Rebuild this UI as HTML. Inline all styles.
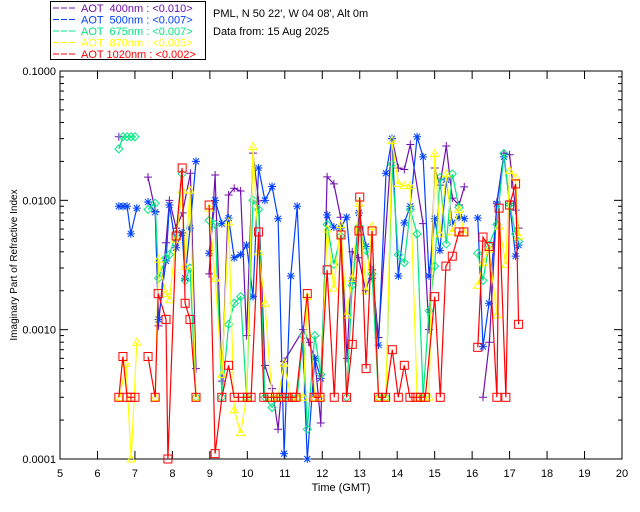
<!DOCTYPE html>
<html><head><meta charset="utf-8"><style>
body{margin:0;background:#fff;}
svg{display:block;font-family:"Liberation Sans",sans-serif;}
</style></head><body>
<svg id="chart" width="640" height="512" viewBox="0 0 640 512" xmlns="http://www.w3.org/2000/svg">
<rect x="0" y="0" width="640" height="512" fill="#fff"/>
<g id="legend">
<rect x="50.5" y="1.5" width="155" height="58" fill="none" stroke="#000"/>
</g>
<text x="213" y="17" font-size="11">PML, N 50 22', W 04 08', Alt 0m</text>
<text x="213" y="35" font-size="11">Data from: 15 Aug 2025</text>
<g id="axes"></g>
<g id="series"></g>
<text x="341" y="491" font-size="11" text-anchor="middle">Time (GMT)</text>
<text x="17" y="265" font-size="10" text-anchor="middle" transform="rotate(-90 17 265)">Imaginary Part of Refractive Index</text>
</svg>
<script>
const xTicks=[5,6,7,8,9,10,11,12,13,14,15,16,17,18,19,20];
const yTicks=[0.1,0.01,0.001,0.0001];
const yTickLabels=["0.1000","0.0100","0.0010","0.0001"];
const legendLabels=["AOT  400nm : <0.010>","AOT  500nm : <0.007>","AOT  675nm : <0.007>","AOT  870nm : <0.005>","AOT 1020nm : <0.002>"];
const t400=[6.57,null,7.35,7.55,7.63,7.83,7.92,8.1,8.27,8.48,8.63,null,8.98,9.14,9.32,9.5,9.65,9.82,9.98,10.15,10.3,10.47,10.66,10.82,10.98,11.49,11.64,11.8,11.96,12.13,12.31,12.49,12.66,12.8,12.97,13.16,13.33,13.5,13.86,14.03,14.19,14.35,14.69,14.85,15.0,15.14,15.31,15.47,15.65,15.79,null,16.29,16.46,16.66,16.85,17.0,17.16,17.24];
const v400=[0.031,null,0.0151,0.0082,0.00107,0.0047,0.010,0.0061,0.008,0.0162,0.0005,null,0.0027,0.0157,0.0004,0.011,0.0124,0.0118,0.0009,0.0232,0.0099,0.00053,0.00035,0.00017,0.00057,0.001,0.0008,0.0006,0.00019,0.0152,0.0134,0.0074,0.0006,0.004,0.0036,0.002,0.0029,0.00087,0.030,0.0178,0.0173,0.027,0.0066,0.001,0.0178,0.0131,0.0263,0.0104,0.0092,0.0127,null,0.0003,0.0008,0.0097,0.0232,0.0225,0.0084,0.0061];
const t500=[6.57,6.68,6.79,6.89,7.05,null,7.35,7.54,7.63,7.83,7.92,8.1,8.26,8.34,8.47,8.63,null,8.98,9.14,9.32,9.5,9.65,9.82,9.98,10.15,10.3,10.47,10.66,10.82,10.98,11.16,11.33,11.6,11.8,11.96,12.13,12.31,12.49,12.65,12.8,12.98,13.17,13.33,13.5,13.7,13.86,14.03,14.19,14.35,14.53,14.69,14.85,15.0,15.14,15.31,15.47,15.65,15.79,null,16.15,16.29,16.45,16.66,16.85,17.0,17.16,17.24];
const v500=[0.009,0.009,0.009,0.0055,0.0087,null,0.0097,0.0081,0.0012,0.0034,0.0092,0.0043,0.0056,0.0025,0.0061,0.020,null,0.0039,0.01,0.0066,0.0073,0.0036,0.0038,0.0045,0.0018,0.0178,0.01,0.0128,0.0072,0.00011,0.0026,0.009,0.0001,0.0006,0.00042,0.0077,0.0062,0.0061,0.0074,0.0024,0.008,0.0044,0.0025,0.00076,0.0162,0.030,0.0026,0.0067,0.009,0.031,0.0217,0.0026,0.0072,0.0041,0.0144,0.0067,0.0074,0.0072,null,0.0073,0.00074,0.0016,0.0094,0.0217,0.0095,0.0037,0.0045];
const t675=[6.57,6.68,6.79,6.9,7.0,null,7.35,7.54,7.63,7.83,7.92,8.1,8.26,8.34,8.47,8.63,null,8.98,9.14,9.32,9.5,9.65,9.82,9.98,10.15,10.3,10.47,10.66,10.82,10.98,11.16,11.33,11.49,11.6,11.8,11.96,12.13,12.31,12.49,12.65,12.8,12.98,13.17,13.33,13.5,13.7,13.86,14.03,14.19,14.35,14.53,14.69,14.85,15.0,15.14,15.31,15.47,15.65,null,16.15,16.29,16.45,16.66,16.85,17.0,17.16,17.24];
const v675=[0.025,0.031,0.031,0.031,0.031,null,0.0085,0.0095,0.0025,0.0036,0.0038,0.0055,0.016,0.0024,0.003,0.0003,null,0.007,0.0065,0.0003,0.0011,0.0016,0.0018,0.0003,0.01,0.0085,0.0003,0.00025,0.0003,0.0003,0.0003,0.0003,0.0009,0.00017,0.0009,0.00045,0.0065,0.0032,0.0053,0.0003,0.0022,0.0063,0.0041,0.0027,0.0003,0.0003,0.019,0.0038,0.0033,0.0085,0.0055,0.0003,0.0014,0.0031,0.015,0.0046,0.016,0.0088,null,0.0039,0.0024,0.0045,0.0065,0.023,0.0093,0.0055,0.0048];
const t870=[6.6,6.76,6.9,7.05,null,7.54,7.63,7.83,7.92,8.1,8.26,8.34,8.47,8.63,null,8.98,9.14,9.32,9.5,9.65,9.82,9.98,10.15,10.3,10.47,10.66,10.82,10.98,11.16,11.33,11.49,11.6,11.8,11.96,12.13,12.31,12.49,12.65,12.8,12.98,13.17,13.33,13.5,13.7,13.86,14.03,14.19,14.35,14.53,14.69,14.85,15.0,15.14,15.31,15.47,15.65,15.79,null,16.15,16.29,16.45,16.66,16.72,16.9,17.0,17.16,17.24];
const v870=[0.0003,0.00055,0.0001,0.0008,null,0.0003,0.0035,0.0019,0.0017,0.005,0.012,0.0031,0.012,0.0003,null,0.0087,0.0025,0.00045,0.0068,0.00024,0.00016,0.0003,0.026,0.004,0.0016,0.0003,0.0003,0.00055,0.0003,0.0003,0.0003,0.0018,0.0003,0.0003,0.006,0.0021,0.0065,0.0013,0.0025,0.0095,0.002,0.0063,0.0003,0.0003,0.029,0.0135,0.013,0.013,0.0003,0.0003,0.0003,0.023,0.0055,0.016,0.0057,0.0085,0.0056,null,0.0022,0.0033,0.0042,0.0013,0.0063,0.0032,0.017,0.015,0.0053];
const t1020=[6.57,6.68,6.79,6.89,7.0,null,7.35,7.54,7.62,7.83,7.88,8.1,8.26,8.34,8.47,8.63,null,8.98,9.14,9.32,9.5,9.65,9.87,10.0,10.1,10.3,10.44,10.6,10.75,10.9,11.05,11.2,11.3,11.6,11.78,11.94,12.13,12.32,12.5,12.65,12.8,12.98,13.0,13.17,13.33,13.5,13.69,13.87,14.03,14.19,14.34,14.5,14.62,14.75,15.0,15.15,15.3,15.47,15.65,15.78,null,16.15,16.29,16.45,16.66,16.72,16.9,17.0,17.16,17.24];
const v1020=[0.0003,0.00062,0.0003,0.0003,0.0003,null,0.00062,0.0003,0.0019,0.0012,0.0001,0.0053,0.0178,0.0016,0.0012,0.0003,null,0.0092,0.00011,0.0003,0.00053,0.0003,0.0003,0.0003,0.0003,0.0057,0.0003,0.0003,0.0003,0.0003,0.0003,0.0003,0.0003,0.0019,0.0003,0.0003,0.0029,0.0003,0.0054,0.0003,0.00077,0.0058,0.0106,0.0005,0.0058,0.0003,0.0003,0.0007,0.0003,0.00053,0.0003,0.0003,0.0003,0.0003,0.0018,0.0003,0.0031,0.0037,0.0057,0.0057,null,0.00073,0.0052,0.0044,0.0003,0.0087,0.0003,0.0092,0.0134,0.0011];

const X0=60,X1=622,Y0=71,Y1=459;
function xs(t){return X0+(t-5)*(X1-X0)/15;}
function ys(v){var l=Math.log10(Math.max(v,1e-4*0.9));return Y0+(-1-l)*(Y1-Y0)/3;}
const NS="http://www.w3.org/2000/svg";
function mk(tag,attrs,parent){var e=document.createElementNS(NS,tag);for(var k in attrs)e.setAttribute(k,attrs[k]);parent.appendChild(e);return e;}

const axes=document.getElementById('axes');
var frame=mk('rect',{x:X0,y:Y0,width:X1-X0,height:Y1-Y0,fill:'none',stroke:'#000'},axes);


xTicks.forEach(function(t){
  var x=xs(t);
  var a=mk('line',{x1:x,x2:x,y1:Y1,y2:Y1-8,stroke:'#000'},axes);
  
  
  var b=mk('line',{x1:x,x2:x,y1:Y0,y2:Y0+8,stroke:'#000'},axes);
  
  
  var tx=mk('text',{x:x,y:Y1+18,'font-size':11,'text-anchor':'middle'},axes);
  tx.textContent=String(t);
  
  
});
yTicks.forEach(function(v,i){
  var y=ys(v);
  var a=mk('line',{x1:X0,x2:X0+8,y1:y,y2:y,stroke:'#000'},axes);
  
  
  var b=mk('line',{x1:X1,x2:X1-8,y1:y,y2:y,stroke:'#000'},axes);
  
  
  var tx=mk('text',{x:X0-4,y:y+4,'font-size':11,'text-anchor':'end'},axes);
  tx.textContent=yTickLabels[i];
  
  
  if(i<yTicks.length-1){for(var m=2;m<10;m++){var ym=ys(v/10*m);
    var c=mk('line',{x1:X0,x2:X0+4,y1:ym,y2:ym,stroke:'#000'},axes);
    
    
    var d=mk('line',{x1:X1,x2:X1-4,y1:ym,y2:ym,stroke:'#000'},axes);
    
    }}
});

const colors=['#7010b0','#0040ff','#00e880','#ffff00','#ff0000'];
const allT=[t400,t500,t675,t870,t1020],allV=[v400,v500,v675,v870,v1020];
const names=['400nm','500nm','675nm','870nm','1020nm'];
const sg=document.getElementById('series');
function marker(k,x,y,c,g){
  var e;
  if(k==0){e=mk('path',{d:'M'+(x-4)+' '+y+'h8M'+x+' '+(y-4)+'v8',stroke:c,fill:'none'},g);}
  else if(k==1){e=mk('path',{d:'M'+(x-4)+' '+y+'h8M'+x+' '+(y-4)+'v8M'+(x-3)+' '+(y-3)+'l6 6M'+(x+3)+' '+(y-3)+'l-6 6',stroke:c,fill:'none'},g);}
  else if(k==2){e=mk('path',{d:'M'+x+' '+(y-4)+'l4 4l-4 4l-4 -4z',stroke:c,fill:'none'},g);}
  else if(k==3){e=mk('path',{d:'M'+x+' '+(y-4)+'l4 7h-8z',stroke:c,fill:'none'},g);}
  else {e=mk('rect',{x:x-4,y:y-4,width:8,height:8,stroke:c,fill:'none'},g);}
  return e;
}
allT.forEach(function(T,k){
  var g=mk('g',{},sg);
  
  
  var V=allV[k],seg=[];
  function flush(){if(seg.length>1){var p=mk('polyline',{points:seg.join(' '),fill:'none',stroke:colors[k],'stroke-width':1.2},g);
    
    }seg=[];}
  for(var i=0;i<T.length;i++){
    if(T[i]===null){flush();continue;}
    seg.push(xs(T[i]).toFixed(1)+','+ys(V[i]).toFixed(1));
  }
  flush();
  for(var i=0;i<T.length;i++){
    if(T[i]===null)continue;
    var m=marker(k,xs(T[i]),ys(V[i]),colors[k],g);
    
    
  }
});

const lg=document.getElementById('legend');
legendLabels.forEach(function(s,i){
  var y=8+i*11.5;
  var l=mk('line',{x1:53,x2:76,y1:y,y2:y,stroke:colors[i],'stroke-dasharray':'6,2'},lg);
  
  
  var t=mk('text',{x:81,y:y+4,'font-size':11,fill:colors[i],'xml:space':'preserve'},lg);
  t.setAttribute('style','white-space:pre');
  t.textContent=s;
  
  
});
</script>
</body></html>
